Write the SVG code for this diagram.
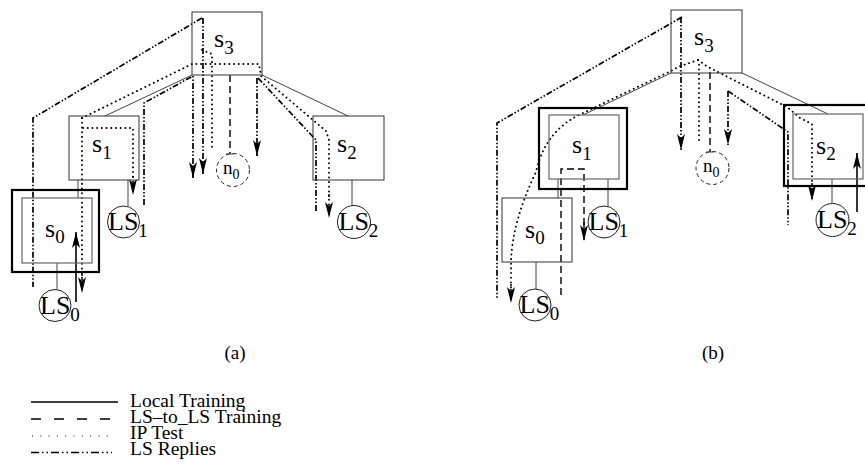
<svg xmlns="http://www.w3.org/2000/svg" width="865" height="468" viewBox="0 0 865 468">
<defs>
<marker id="ah" viewBox="0 0 16 8" refX="16" refY="4" markerWidth="16" markerHeight="8" markerUnits="userSpaceOnUse" orient="auto">
<path d="M0,0 L16,4 L0,8 L4,4 Z" fill="#000"/>
</marker>
<style>
.box{fill:none;stroke:#333;stroke-width:1}
.inner{fill:none;stroke:#666;stroke-width:1.2}
.outer{fill:none;stroke:#000;stroke-width:2.2}
.ls{fill:#fff;stroke:#222;stroke-width:1}
.n0{fill:none;stroke:#222;stroke-width:1;stroke-dasharray:4 3}
.link{fill:none;stroke:#444;stroke-width:1}
.solid{fill:none;stroke:#000;stroke-width:1.6}
.dot{fill:none;stroke:#000;stroke-width:1.9;stroke-dasharray:0.1 4.6;stroke-linecap:round}
.dd{fill:none;stroke:#000;stroke-width:1.7;stroke-dasharray:6 2 1.5 2 1.5 2}
.dash{fill:none;stroke:#000;stroke-width:1.4;stroke-dasharray:7 4}
.arr{marker-end:url(#ah)}
text{font-family:"Liberation Serif","Times New Roman",serif;fill:#000}
.lab{font-size:26px}
.sub{font-size:19px}
.nl{font-size:19px}
.nsub{font-size:14px}
.cap{font-size:19px}
.leg{font-size:19.5px}
</style>
</defs>

<!-- ================= Panel (a) ================= -->
<g id="a-connectors">
  <line class="link" x1="192" y1="75" x2="105" y2="116"/>
  <line class="link" x1="262" y1="75" x2="348" y2="116"/>
  <line class="link" x1="78" y1="180" x2="78" y2="198"/>
  <line class="link" x1="128" y1="180" x2="128" y2="206"/>
  <line class="link" x1="57" y1="263" x2="57" y2="289"/>
  <line class="link" x1="352" y1="180" x2="352" y2="206"/>
  <path class="solid arr" d="M76,302 L76,232"/>
  <path class="dot" d="M82,118 L192,64 L259,64 L261,76 L326,131 L329,140 L329,200"/>
  <path class="dot arr" d="M329,195 L329,218"/>
  <path class="dot" d="M82,118 L82,280"/>
  <path class="dot arr" d="M82,275 L82,293"/>
  <path class="dot" d="M83,128 L133,128 L133,180"/>
  <path class="dot arr" d="M133,177 L133,195"/>
  <path class="dot" d="M202,50 L212,54 L212,150"/>
  <path class="dd" d="M202,18 L33,118 L33,287"/>
  <path class="dd arr" d="M203,18 L203,174"/>
  <path class="dd arr" d="M144,205 L144,103 L193,76 L193,178"/>
  <path class="dd arr" d="M257,78 L257,156"/>
  <path class="dd" d="M258,78 L316,140 L316,212"/>
  <path class="dash" d="M230,75 L230,154"/>
  <path class="link" d="M226,154 L234,154"/>
</g>

<g id="a-s3"><rect class="box" x="192" y="12" width="70" height="63"/>
  <text class="lab" x="214" y="47">s<tspan class="sub" dy="7">3</tspan></text></g>
<g id="a-s1"><rect class="box" x="69" y="116" width="70" height="64"/>
  <text class="lab" x="92" y="152">s<tspan class="sub" dy="7">1</tspan></text></g>
<g id="a-s2"><rect class="box" x="313" y="116" width="71" height="64"/>
  <text class="lab" x="337" y="152">s<tspan class="sub" dy="7">2</tspan></text></g>
<g id="a-s0"><rect class="outer" x="12" y="190" width="87" height="82"/>
  <rect class="inner" x="22" y="198" width="70" height="65"/>
  <text class="lab" x="45" y="237">s<tspan class="sub" dy="6">0</tspan></text></g>
<g id="a-n0"><circle class="n0" cx="233" cy="170" r="16.5"/>
  <text class="nl" x="223" y="174">n<tspan class="nsub" dy="5">0</tspan></text></g>
<g id="a-LS0"><circle class="ls" cx="55" cy="305.5" r="16"/>
  <text class="lab" x="40" y="313.5">LS<tspan class="sub" dy="7">0</tspan></text></g>
<g id="a-LS1"><circle class="ls" cx="123.5" cy="222" r="16"/>
  <text class="lab" x="108" y="230">LS<tspan class="sub" dy="7">1</tspan></text></g>
<g id="a-LS2"><circle class="ls" cx="354" cy="222" r="16.5"/>
  <text class="lab" x="338.5" y="230">LS<tspan class="sub" dy="7">2</tspan></text></g>

<text class="cap" x="235" y="359" text-anchor="middle">(a)</text>

<!-- ================= Panel (b) ================= -->
<g id="b-connectors">
  <line class="link" x1="671" y1="73" x2="583" y2="115"/>
  <line class="link" x1="742" y1="73" x2="828" y2="114"/>
  <line class="link" x1="558" y1="179" x2="558" y2="198"/>
  <line class="link" x1="608" y1="179" x2="608" y2="206"/>
  <line class="link" x1="536" y1="262" x2="536" y2="289"/>
  <line class="link" x1="832" y1="179" x2="832" y2="203"/>
  <path class="solid arr" d="M857,212 L857,153"/>
  <path class="dot" d="M699,140 L699,62"/>
  <path class="dot" d="M698,60 L678,67 L671,71 L583,113 Q545,130 536,172 Q512,222 511,262 L511,288"/>
  <path class="dot arr" d="M511,285 L511,303"/>
  <path class="dot" d="M698,60 L708,67 L787,107 L800,118 L812,124 L812,186"/>
  <path class="dot arr" d="M812,184 L812,201"/>
  <path class="dd" d="M682,17 L497,123 L497,298"/>
  <path class="dd arr" d="M681,17 L681,150"/>
  <path class="dd arr" d="M728,91 L728,145"/>
  <path class="dd" d="M728,91 L788,132 L788,225"/>
  <path class="dash" d="M710,72 L710,152"/>
  <path class="link" d="M706,152 L714,152"/>
  <path class="dash" d="M561,295 L561,169 L584,169 L584,225"/>
  <path class="dash arr" d="M584,222 L584,241"/>
</g>

<g id="b-s3"><rect class="box" x="671" y="10" width="71" height="63"/>
  <text class="lab" x="694" y="45">s<tspan class="sub" dy="7">3</tspan></text></g>
<g id="b-s1"><rect class="outer" x="539" y="108" width="88" height="81"/>
  <rect class="inner" x="549" y="115" width="70" height="64"/>
  <text class="lab" x="572" y="153">s<tspan class="sub" dy="7">1</tspan></text></g>
<g id="b-s0"><rect class="box" x="502" y="198" width="70" height="64"/>
  <text class="lab" x="525" y="238">s<tspan class="sub" dy="6">0</tspan></text></g>
<g id="b-s2"><rect class="outer" x="784" y="105" width="90" height="81"/>
  <rect class="inner" x="793" y="114" width="70" height="65"/>
  <text class="lab" x="816" y="154">s<tspan class="sub" dy="6">2</tspan></text></g>
<g id="b-n0"><circle class="n0" cx="712.5" cy="168" r="16.5"/>
  <text class="nl" x="703" y="172">n<tspan class="nsub" dy="5">0</tspan></text></g>
<g id="b-LS0"><circle class="ls" cx="535" cy="305" r="16"/>
  <text class="lab" x="519.5" y="313">LS<tspan class="sub" dy="7">0</tspan></text></g>
<g id="b-LS1"><circle class="ls" cx="604" cy="222" r="16"/>
  <text class="lab" x="588.5" y="230">LS<tspan class="sub" dy="7">1</tspan></text></g>
<g id="b-LS2"><circle class="ls" cx="832.5" cy="220" r="16.5"/>
  <text class="lab" x="817" y="228">LS<tspan class="sub" dy="7">2</tspan></text></g>

<text class="cap" x="713" y="359" text-anchor="middle">(b)</text>

<!-- ================= Legend ================= -->
<g id="legend">
  <line x1="31" y1="402" x2="118" y2="402" stroke="#000" stroke-width="1.6"/>
  <line x1="31" y1="419" x2="110" y2="419" stroke="#000" stroke-width="1.6" stroke-dasharray="10 13"/>
  <line x1="32" y1="436" x2="108" y2="436" stroke="#000" stroke-width="1.2" stroke-dasharray="1 7.3"/>
  <line x1="31" y1="452.5" x2="112" y2="452.5" stroke="#000" stroke-width="1.6" stroke-dasharray="8 3 1.5 3 1.5 3"/>
  <text class="leg" x="130" y="407">Local Training</text>
  <text class="leg" x="130" y="423">LS–to_LS Training</text>
  <text class="leg" x="130" y="439">IP Test</text>
  <text class="leg" x="130" y="455">LS Replies</text>
</g>
</svg>
